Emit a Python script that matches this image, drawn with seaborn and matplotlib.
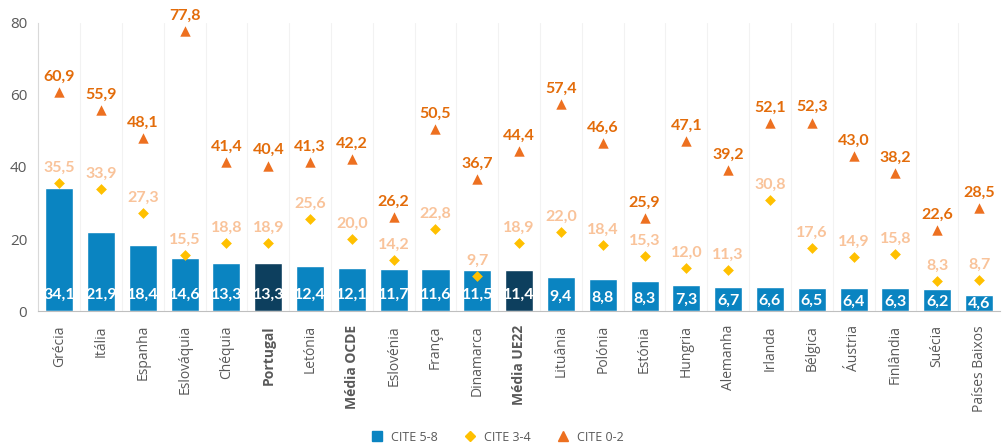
import numpy as np
import pandas as pd
import matplotlib
matplotlib.use("Agg")
import matplotlib.pyplot as plt
from matplotlib.lines import Line2D
import seaborn as sns

# data
paises = ["Grécia", "Itália", "Espanha", "Eslováquia", "Chéquia", "Portugal", "Letónia",
          "Média OCDE", "Eslovénia", "França", "Dinamarca", "Média UE22", "Lituânia",
          "Polónia", "Estónia", "Hungria", "Alemanha", "Irlanda", "Bélgica", "Áustria",
          "Finlândia", "Suécia", "Países Baixos"]
cite_5_8 = [34.1, 21.9, 18.4, 14.6, 13.3, 13.3, 12.4, 12.1, 11.7, 11.6, 11.5, 11.4,
            9.4, 8.8, 8.3, 7.3, 6.7, 6.6, 6.5, 6.4, 6.3, 6.2, 4.6]
cite_3_4 = [35.5, 33.9, 27.3, 15.5, 18.8, 18.9, 25.6, 20.0, 14.2, 22.8, 9.7, 18.9,
            22.0, 18.4, 15.3, 12.0, 11.3, 30.8, 17.6, 14.9, 15.8, 8.3, 8.7]
cite_0_2 = [60.9, 55.9, 48.1, 77.8, 41.4, 40.4, 41.3, 42.2, 26.2, 50.5, 36.7, 44.4,
            57.4, 46.6, 25.9, 47.1, 39.2, 52.1, 52.3, 43.0, 38.2, 22.6, 28.5]
escuros = ["Portugal", "Média UE22"]          # bars in dark blue
negrito = ["Portugal", "Média OCDE", "Média UE22"]  # bold tick labels

df = pd.DataFrame({"pais": paises, "c58": cite_5_8, "c34": cite_3_4, "c02": cite_0_2})

azul = "#0a84c1"
azul_escuro = "#0d3f5e"
amarelo = "#ffc000"
laranja = "#ed7020"
laranja_txt = "#e36c0a"
pessego = "#f9c39a"
cinza = "#595959"

sns.set_style("white")
plt.rcParams["font.family"] = ["Open Sans", "DejaVu Sans"]

fig = plt.figure(figsize=(10.08, 4.47), dpi=100)
ax = fig.add_axes([0.038, 0.304, 0.954, 0.645])

cores = {p: (azul_escuro if p in escuros else azul) for p in paises}
sns.barplot(data=df, x="pais", y="c58", hue="pais", palette=cores, legend=False,
            width=0.67, saturation=1, ax=ax, zorder=2)
sns.stripplot(data=df, x="pais", y="c34", marker="D", color=amarelo, size=5.5,
              jitter=False, ax=ax, zorder=3)
sns.stripplot(data=df, x="pais", y="c02", marker="^", color=laranja, size=7.5,
              jitter=False, ax=ax, zorder=3)

fmt = lambda v: f"{v:.1f}".replace(".", ",")

for i, row in df.iterrows():
    ax.text(i, min(4.4, row.c58 * 0.42), fmt(row.c58), ha="center", va="center",
            color="white", fontsize=11.5, fontweight="bold", family="Lato", zorder=4)
    ax.annotate(fmt(row.c34), (i, row.c34), xytext=(0, 6), textcoords="offset points",
                ha="center", va="bottom", color=pessego, fontsize=11.5, fontweight="bold",
                family="Lato")
    ax.annotate(fmt(row.c02), (i, row.c02), xytext=(0, 6), textcoords="offset points",
                ha="center", va="bottom", color=laranja_txt, fontsize=11.5, fontweight="bold",
                family="Lato")

n = len(paises)
for k in range(n - 1):
    ax.axvline(k + 0.5, color="#f2f2f2", lw=0.8, zorder=0)

ax.set_xlim(-0.5, n - 0.5)
ax.set_ylim(0, 80)
ax.set_yticks([0, 20, 40, 60, 80])
ax.set_xlabel("")
ax.set_ylabel("")
ax.tick_params(axis="y", labelsize=11, colors=cinza, length=0, pad=8)
ax.tick_params(axis="x", labelsize=10, colors=cinza, length=0, pad=10)
ax.set_xticks(range(n))
ax.set_xticklabels(paises, rotation=90)
for t in ax.get_xticklabels():
    if t.get_text() in negrito:
        t.set_fontweight("bold")

for s in ["top", "right"]:
    ax.spines[s].set_visible(False)
ax.spines["left"].set_color("#d9d9d9")
ax.spines["bottom"].set_color("#bfbfbf")

handles = [
    Line2D([], [], marker="s", color=azul, ls="none", markersize=7),
    Line2D([], [], marker="D", color=amarelo, ls="none", markersize=5),
    Line2D([], [], marker="^", color=laranja, ls="none", markersize=7),
]
fig.legend(handles, ["CITE 5-8", "CITE 3-4", "CITE 0-2"], loc="center",
           bbox_to_anchor=(0.49, 0.022), ncol=3, frameon=False, fontsize=9,
           handletextpad=0.1, columnspacing=1.6, labelcolor=cinza)

fig.savefig("out.png", dpi=100)
